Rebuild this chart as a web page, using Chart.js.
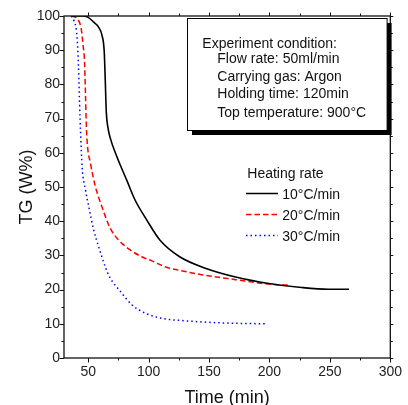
<!DOCTYPE html>
<html lang="en">
<head>
    <meta charset="UTF-8">
    <title>TG curves</title>
    <script src="https://cdn.jsdelivr.net/npm/chart.js"></script>
    <style>
        body {
            margin: 0;
            background-color: #fff;
        }
    </style>
</head>
<body>

    <canvas id="tgChart" width="408" height="405"></canvas>

    <script>
        // values
        var time10 = [36, 45, 50, 54.6, 58.7, 61.4, 63.3, 64.1, 65, 66.3, 68.3, 73.7, 81.9, 88.8, 98.4, 109.3, 125.7, 147.5, 172, 199.4, 226.7, 248.6, 265.8];
        var tg10 = [100, 100, 99.6, 98.2, 96.7, 94.4, 89.5, 81.7, 71.9, 67.5, 64.3, 58.9, 52, 46.2, 40.4, 34.5, 29.6, 26.2, 23.7, 21.8, 20.6, 20.1, 20.1];

        var time20 = [36, 40.9, 44.2, 45.8, 47, 47.8, 48.3, 49.1, 51.9, 56, 61.4, 68.3, 75.2, 84.8, 94.3, 102.7, 114.2, 124.8, 144.8, 172, 199.4, 217];
        var tg20 = [100, 99.2, 96.3, 91.4, 86.5, 76.8, 70, 63.5, 56.9, 50.1, 44.2, 37.9, 34.5, 31.6, 29.6, 28.4, 26.6, 25.7, 24.3, 22.9, 21.6, 21.3];

        var time30 = [36, 38.2, 40.4, 41.5, 42.3, 42.9, 43.7, 45, 47.8, 50.5, 54.6, 58.7, 64.1, 67.7, 76.8, 86.3, 97.3, 110.9, 129.9, 157.4, 179.3, 198];
        var tg30 = [100, 98.7, 95.3, 89.5, 81.7, 73.9, 66.1, 55.9, 49.1, 44.2, 37.4, 32.5, 26.7, 23.7, 19.4, 15.5, 13.1, 11.6, 10.9, 10.3, 10.1, 10];

        var seriesNames = ['10°C/min', '20°C/min', '30°C/min'];
        var xTicks = [50, 100, 150, 200, 250, 300];
        var yTicks = [0, 10, 20, 30, 40, 50, 60, 70, 80, 90, 100];
        var conditionLines = ['Experiment condition:', 'Flow rate: 50ml/min', 'Carrying gas: Argon', 'Holding time: 120min', 'Top temperature: 900°C'];

        var FONT = '"Liberation Sans", Arial, sans-serif';
        var lineColors = ['#000000', '#ff0000', '#0000ff'];
        var lineDashes = [[], [5.5, 3], [1.5, 3]];

        function toPoints(xs, ys) {
            return xs.map(function (x, i) { return { x: x, y: ys[i] }; });
        }

        function makeSet(i, xs, ys) {
            return {
                label: seriesNames[i],
                data: toPoints(xs, ys),
                showLine: true,
                borderColor: lineColors[i],
                borderWidth: i === 0 ? 1.6 : 1.5,
                borderDash: lineDashes[i],
                pointRadius: 0,
                cubicInterpolationMode: 'monotone',
                fill: false
            };
        }

        // frame, minor ticks, titles, condition box and legend
        var decorPlugin = {
            id: 'decor',
            afterDatasetsDraw: function (chart) {
                var c = chart.ctx;
                var a = chart.chartArea;
                var xs = chart.scales.x, ys = chart.scales.y;
                c.save();

                c.strokeStyle = '#111';
                c.lineWidth = 1.3;
                c.setLineDash([]);
                c.strokeRect(a.left, a.top, a.right - a.left, a.bottom - a.top);

                c.lineWidth = 1;
                c.beginPath();
                for (var v = 25; v <= 300; v += 25) {
                    if (v < 30) continue;
                    var px = Math.round(xs.getPixelForValue(v)) + 0.5;
                    var len = v % 50 === 0 ? 4.5 : 2.5;
                    c.moveTo(px, a.bottom); c.lineTo(px, a.bottom + len);
                    c.moveTo(px, a.top); c.lineTo(px, a.top - (v % 50 === 0 ? 3.5 : 2.5));
                }
                for (var w = 0; w <= 100; w += 5) {
                    var py = Math.round(ys.getPixelForValue(w)) + 0.5;
                    var l2 = w % 10 === 0 ? 4.5 : 2.5;
                    c.moveTo(a.left, py); c.lineTo(a.left - l2, py);
                    c.moveTo(a.right, py); c.lineTo(a.right + (w % 10 === 0 ? 3 : 2.5), py);
                }
                c.stroke();

                // axis titles
                c.fillStyle = '#111';
                c.font = '18px ' + FONT;
                c.textAlign = 'center';
                c.textBaseline = 'alphabetic';
                c.fillText('Time (min)', (a.left + a.right) / 2, 403);
                c.save();
                c.translate(31.5, (a.top + a.bottom) / 2);
                c.rotate(-Math.PI / 2);
                c.fillText('TG (W%)', 0, 0);
                c.restore();

                // condition box with shadow
                c.fillStyle = '#000';
                c.fillRect(192, 23, 199.6, 112);
                c.fillStyle = '#fff';
                c.fillRect(187.5, 18.5, 199.6, 112);
                c.strokeStyle = '#000';
                c.lineWidth = 1;
                c.strokeRect(187.5, 18.5, 199.6, 112);

                c.fillStyle = '#111';
                c.font = '14px ' + FONT;
                c.textAlign = 'left';
                var bx = [202.3, 217.3, 217.3, 217.3, 217.3];
                var by = [48.3, 63.3, 80.7, 97.7, 117.3];
                conditionLines.forEach(function (t, i) { c.fillText(t, bx[i], by[i]); });

                // legend
                c.fillText('Heating rate', 247.3, 178.3);
                for (var k = 0; k < 3; k++) {
                    var ly = 193.5 + k * 21;
                    c.strokeStyle = lineColors[k];
                    c.lineWidth = 1.5;
                    c.setLineDash(lineDashes[k]);
                    c.beginPath();
                    c.moveTo(246, ly); c.lineTo(278, ly);
                    c.stroke();
                    c.fillText(seriesNames[k], 282.3, ly + 5);
                }
                c.restore();
            }
        };

        var ctx = document.getElementById('tgChart').getContext('2d');
        var tgChart = new Chart(ctx, {
            type: 'scatter',
            data: {
                datasets: [
                    makeSet(0, time10, tg10),
                    makeSet(1, time20, tg20),
                    makeSet(2, time30, tg30)
                ]
            },
            options: {
                responsive: false,
                animation: false,
                layout: { padding: { top: 16, right: 15, left: 0, bottom: 0 } },
                plugins: { legend: { display: false }, tooltip: { enabled: false } },
                scales: {
                    x: {
                        type: 'linear',
                        min: 30,
                        max: 300,
                        afterFit: function (s) { s.height = 47; },
                        afterBuildTicks: function (s) { s.ticks = xTicks.map(function (v) { return { value: v }; }); },
                        grid: { display: false, drawTicks: false, tickLength: 0 },
                        border: { display: false },
                        ticks: { padding: 6, color: '#222', font: { family: FONT, size: 14 } }
                    },
                    y: {
                        min: 0,
                        max: 100,
                        afterFit: function (s) { s.width = 64; },
                        afterBuildTicks: function (s) { s.ticks = yTicks.map(function (v) { return { value: v }; }); },
                        grid: { display: false, drawTicks: false, tickLength: 0 },
                        border: { display: false },
                        ticks: { padding: 4, color: '#222', font: { family: FONT, size: 14 } }
                    }
                }
            },
            plugins: [decorPlugin]
        });
    </script>
</body>
</html>
